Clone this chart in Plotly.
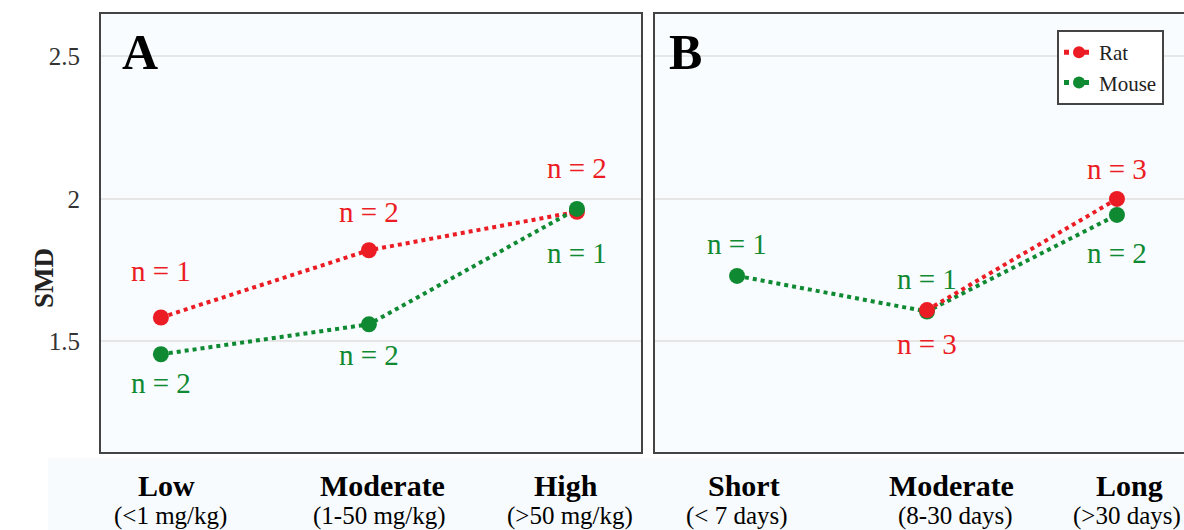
import plotly.graph_objects as go

# Panel A: dose groups
dose_labels = ["Low", "Moderate", "High"]
dose_ranges = ["(<1 mg/kg)", "(1-50 mg/kg)", "(>50 mg/kg)"]
rat_dose_smd = [1.584, 1.82, 1.955]
rat_dose_n = [1, 2, 2]
mouse_dose_smd = [1.455, 1.56, 1.965]
mouse_dose_n = [2, 2, 1]

# Panel B: duration groups
dur_labels = ["Short", "Moderate", "Long"]
dur_ranges = ["(< 7 days)", "(8-30 days)", "(>30 days)"]
rat_dur_smd = [None, 1.61, 2.0]
rat_dur_n = [None, 3, 3]
mouse_dur_smd = [1.73, 1.605, 1.944]
mouse_dur_n = [1, 1, 2]

y_ticks = [1.5, 2, 2.5]

RED = "#ec1c24"
GREEN = "#0f8a32"
SERIF = "Liberation Serif"

fig = go.Figure()

def add_series(xaxis, yaxis, y, name, color, show):
    fig.add_trace(go.Scatter(
        x=list(range(len(y))), y=y, name=name, mode="lines+markers",
        xaxis=xaxis, yaxis=yaxis, showlegend=show, connectgaps=False,
        line=dict(color=color, width=4, dash="dot"),
        marker=dict(color=color, size=16),
    ))

# Panel A (mouse drawn on top), panel B (rat drawn on top)
add_series("x", "y", rat_dose_smd, "Rat", RED, True)
add_series("x", "y", mouse_dose_smd, "Mouse", GREEN, True)
add_series("x2", "y2", mouse_dur_smd, "Mouse", GREEN, False)
add_series("x2", "y2", rat_dur_smd, "Rat", RED, False)

annotations = []

def n_labels(xref, yref, ys, ns, color, shifts):
    for i, (v, n) in enumerate(zip(ys, ns)):
        if v is None:
            continue
        annotations.append(dict(
            x=i, y=v, xref=xref, yref=yref, text=f"n = {n}", showarrow=False,
            yshift=shifts[i], font=dict(family=SERIF, size=29, color=color),
        ))

n_labels("x", "y", rat_dose_smd, rat_dose_n, RED, [46, 38, 44])
n_labels("x", "y", mouse_dose_smd, mouse_dose_n, GREEN, [-29, -31, -44])
n_labels("x2", "y2", rat_dur_smd, rat_dur_n, RED, [0, -34, 30])
n_labels("x2", "y2", mouse_dur_smd, mouse_dur_n, GREEN, [32, 33, -38])

# Panel letters
for letter, ref, px in (("A", "x domain", 0.035), ("B", "x2 domain", 0.022)):
    annotations.append(dict(
        x=px, y=0.958, xref=ref, yref="paper",
        xanchor="left", yanchor="top", text=f"<b>{letter}</b>", showarrow=False,
        font=dict(family=SERIF, size=50, color="black"),
    ))

# Category labels under each panel: bold group name, range underneath
def category_labels(xref, names, ranges, name_shift, range_shift):
    for i, (a, b) in enumerate(zip(names, ranges)):
        annotations.append(dict(
            x=i, y=(530 - 485) / 530, xref=xref, yref="paper",
            yanchor="middle", text=f"<b>{a}</b>", showarrow=False,
            xshift=name_shift[i],
            font=dict(family=SERIF, size=30, color="black"),
        ))
        annotations.append(dict(
            x=i, y=(530 - 516) / 530, xref=xref, yref="paper",
            yanchor="middle", text=b, showarrow=False,
            xshift=range_shift[i],
            font=dict(family=SERIF, size=25, color="black"),
        ))

category_labels("x", dose_labels, dose_ranges, [6, 14, -11], [10, 11, -7])
category_labels("x2", dur_labels, dur_ranges, [7, 24, 13], [0, 28, 10])

# Y-axis title
annotations.append(dict(
    x=27 / 1184, y=(530 - 278) / 530, xref="paper", yref="paper",
    text="<b>SMD</b>", textangle=-90, showarrow=False,
    font=dict(family=SERIF, size=27, color="#222"),
))

axis_common = dict(
    showline=True, linecolor="#444", linewidth=2, mirror=True,
    showgrid=False, zeroline=False, ticks="", showticklabels=False,
    automargin=False, tickvals=[0, 1, 2],
)

fig.update_layout(
    width=1184, height=530,
    margin=dict(l=0, r=0, t=0, b=0),
    paper_bgcolor="white",
    plot_bgcolor="#f8fcfe",
    annotations=annotations,
    showlegend=True,
    legend=dict(
        x=1057 / 1184, y=(530 - 30) / 530, xanchor="left", yanchor="top",
        bgcolor="white", bordercolor="#444", borderwidth=2,
        font=dict(family=SERIF, size=21, color="#222"),
        itemwidth=30, itemsizing="constant", tracegroupgap=0,
    ),
    xaxis=dict(
        domain=[101 / 1184, 641 / 1184], range=[-0.288, 2.308],
        **axis_common,
    ),
    xaxis2=dict(
        domain=[655 / 1184, 1.0], range=[-0.432, 2.353],
        **axis_common,
    ),
    yaxis=dict(
        domain=[78 / 530, 516 / 530], range=[1.112, 2.649],
        tickmode="array", tickvals=y_ticks, ticktext=["1.5", "2", "2.5"],
        showline=True, linecolor="#444", linewidth=2, mirror=True,
        showgrid=True, gridcolor="#e6e6e6", gridwidth=1.5, zeroline=False,
        ticks="", ticklabelstandoff=14, automargin=False,
        tickfont=dict(family=SERIF, size=25, color="#333"),
    ),
    yaxis2=dict(
        domain=[78 / 530, 516 / 530], range=[1.112, 2.649], anchor="x2",
        tickvals=y_ticks, showticklabels=False, automargin=False,
        showline=True, linecolor="#444", linewidth=2, mirror=False,
        showgrid=True, gridcolor="#e6e6e6", gridwidth=1.5, zeroline=False,
        ticks="",
    ),
    shapes=[dict(
        type="rect", xref="paper", yref="paper", layer="below",
        x0=48 / 1184, x1=1.0, y0=0, y1=72 / 530,
        fillcolor="#f7fbfd", line=dict(width=0),
    )],
)

fig.write_html("out.html")
